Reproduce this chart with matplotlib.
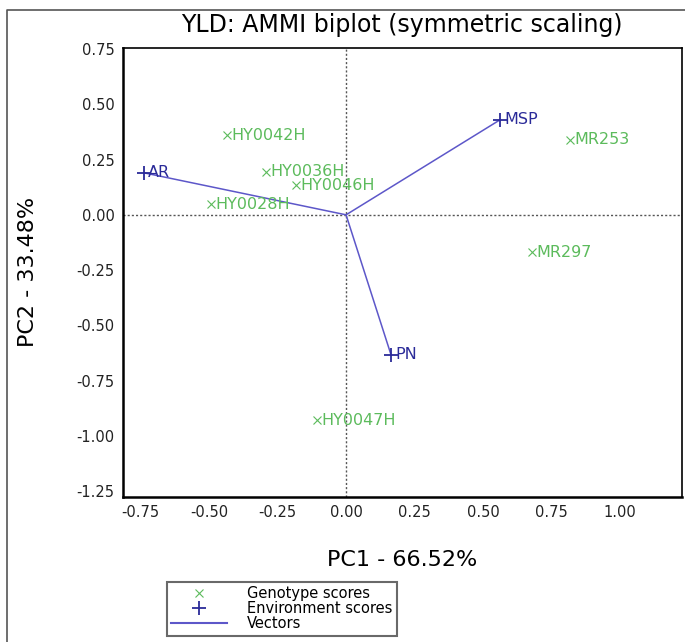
import matplotlib
matplotlib.use("Agg")
import matplotlib.pyplot as plt
from matplotlib.lines import Line2D

# genotype scores (PC1, PC2)
genotypes = ["HY0042H", "HY0036H", "HY0046H", "HY0028H", "MR253", "MR297", "HY0047H"]
gen_pc1 = [-0.434, -0.292, -0.182, -0.493, 0.818, 0.679, -0.106]
gen_pc2 = [0.360, 0.196, 0.133, 0.047, 0.340, -0.169, -0.930]

# environment scores (PC1, PC2)
environments = ["AR", "MSP", "PN"]
env_pc1 = [-0.737, 0.562, 0.164]
env_pc2 = [0.190, 0.430, -0.633]

xticks = [-0.75, -0.50, -0.25, 0.00, 0.25, 0.50, 0.75, 1.00]
yticks = [0.75, 0.50, 0.25, 0.00, -0.25, -0.50, -0.75, -1.00, -1.25]

green = "#5cbb5c"
navy = "#2b2b99"
vec = "#5d57c9"

fig = plt.figure(figsize=(6.85, 6.42), dpi=100)
ax = fig.add_axes([123 / 685, 1 - 497 / 642, (682 - 123) / 685, (497 - 48) / 642])

# reference lines through origin
ax.axhline(0, color="#555555", lw=1, ls=(0, (1.5, 1.5)), zorder=1)
ax.axvline(0, color="#555555", lw=1, ls=(0, (1.5, 1.5)), zorder=1)

# vectors from origin to environment scores
for x, y in zip(env_pc1, env_pc2):
    ax.plot([0, x], [0, y], color=vec, lw=1.1, zorder=2)

ax.plot(gen_pc1, gen_pc2, ls="none", marker="x", ms=5.5, mew=0.8, color=green, zorder=3)
ax.plot(env_pc1, env_pc2, ls="none", marker="+", ms=10, mew=1.3, color=navy, zorder=4)

for name, x, y in zip(genotypes, gen_pc1, gen_pc2):
    ax.annotate(name, (x, y), xytext=(3, 0), textcoords="offset points",
                ha="left", va="center", fontsize=11.5, color=green)
for name, x, y in zip(environments, env_pc1, env_pc2):
    ax.annotate(name, (x, y), xytext=(3, 0), textcoords="offset points",
                ha="left", va="center", fontsize=11.5, color=navy)

ax.set_xlim(-0.814, 1.226)
ax.set_ylim(-1.277, 0.755)
ax.set_xticks(xticks)
ax.set_yticks(yticks)
ax.set_xticklabels(["%.2f" % v for v in xticks])
ax.set_yticklabels(["%.2f" % v for v in yticks])
ax.tick_params(length=0, labelsize=10.5, pad=6, colors="#222222")

ax.spines["left"].set_linewidth(1.8)
ax.spines["bottom"].set_linewidth(1.8)
ax.spines["top"].set_linewidth(1.2)
ax.spines["right"].set_linewidth(1.2)

fig.text(402 / 685, 1 - 25 / 642, "YLD: AMMI biplot (symmetric scaling)",
         ha="center", va="center", fontsize=17)
fig.text(402 / 685, 1 - 560 / 642, "PC1 - 66.52%", ha="center", va="center", fontsize=16)
fig.text(28 / 685, 1 - 272 / 642, "PC2 - 33.48%", ha="center", va="center",
         rotation=90, fontsize=16)

# outer frame (top and left edges visible)
fig.add_artist(Line2D([7 / 685, 7 / 685, 1.0], [0.0, 1 - 10 / 642, 1 - 10 / 642],
                      transform=fig.transFigure, color="#555555", lw=1.2))

handles = [
    Line2D([], [], ls="none", marker="x", ms=5.5, mew=0.8, color=green),
    Line2D([], [], ls="none", marker="+", ms=10, mew=1.3, color=navy),
    Line2D([], [], color=vec, lw=1.5),
]
leg = fig.legend(handles, ["Genotype scores", "Environment scores", "Vectors"],
                 loc="upper left", bbox_to_anchor=(167 / 685, 1 - 582 / 642),
                 borderaxespad=0, fontsize=10.5, frameon=True, fancybox=False,
                 handlelength=3.8, handletextpad=1.4, labelspacing=0.0,
                 borderpad=0.3)
leg.get_frame().set_edgecolor("#444444")
leg.get_frame().set_linewidth(1.5)

fig.savefig("out.png", dpi=100)
